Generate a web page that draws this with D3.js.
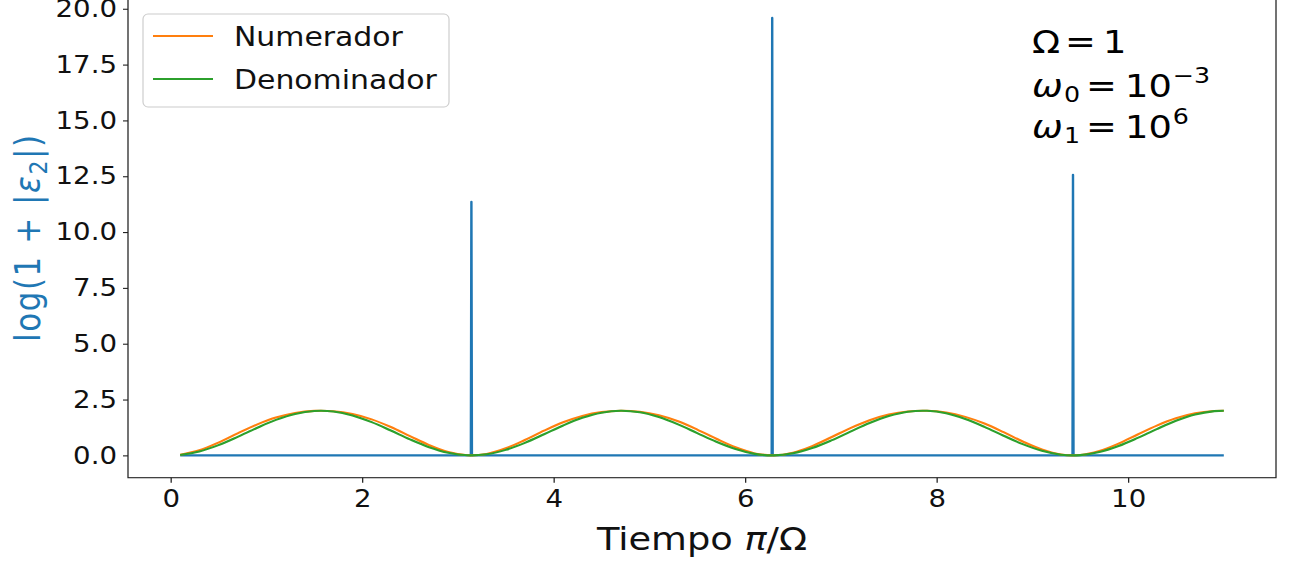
<!DOCTYPE html>
<html><head><meta charset="utf-8">
<script src="https://cdn.jsdelivr.net/npm/d3@7"></script>
<style>html,body{margin:0;padding:0;background:#fff;overflow:hidden}</style>
</head><body><svg id="chart"></svg>
<script>
// ---- data ----
const xSample = [0.1,0.3,0.5,0.7,0.9,1.1,1.3,1.5,1.7,1.9,2.1,2.3,2.5,2.7,2.9,3.1,3.3,3.5,3.7,3.9,4.1,4.3,4.5,4.7,4.9,5.1,5.3,5.5,5.7,5.9,6.1,6.3,6.5,6.7,6.9,7.1,7.3,7.5,7.7,7.9,8.1,8.3,8.5,8.7,8.9,9.1,9.3,9.5,9.7,9.9,10.1,10.3,10.5,10.7,10.9,11.0];
const numerador = [0.026,0.226,0.573,0.985,1.379,1.693,1.900,1.993,1.977,1.850,1.612,1.270,0.863,0.460,0.147,0.004,0.064,0.315,0.690,1.106,1.482,1.766,1.938,2.000,1.952,1.793,1.524,1.156,0.742,0.360,0.088,0.001,0.121,0.416,0.811,1.222,1.575,1.827,1.968,1.997,1.920,1.724,1.425,1.038,0.622,0.263,0.039,0.014,0.191,0.524,0.933,1.333,1.659,1.880,1.988,2.000];
const denominador = [0.020,0.175,0.460,0.830,1.227,1.589,1.857,1.990,1.967,1.791,1.490,1.112,0.716,0.365,0.113,0.003,0.049,0.246,0.561,0.946,1.340,1.680,1.911,2.000,1.930,1.715,1.388,0.996,0.607,0.282,0.068,0.001,0.093,0.328,0.669,1.063,1.447,1.759,1.953,1.996,1.885,1.627,1.277,0.880,0.502,0.204,0.030,0.011,0.147,0.418,0.781,1.178,1.547,1.830,1.982,2.000];
const errX = [0.1,3.136,3.1416,3.147,6.278,6.2832,6.288,9.420,9.4248,9.430,11.0];
const errY = [0,0,11.36,0,0,19.59,0,0,12.57,0,0];
const xTicks = [0,2,4,6,8,10];
const yTicks = [0,2.5,5,7.5,10,12.5,15,17.5,20];
const legendLabels = ["Numerador","Denominador"];

// ---- layout ----
const W = 1294, H = 565, S = 1.15;           // horizontal stretch of the original image
const u = px => px / S;
const C = {blue:"#1f77b4", orange:"#ff7f0e", green:"#2ca02c"};
const FONT = "DejaVu Sans";

const svg = d3.select("#chart").attr("width",W).attr("height",H)
  .attr("viewBox",`0 0 ${W/S} ${H}`).attr("preserveAspectRatio","none")
  .style("font-family",FONT);

const x = d3.scaleLinear().domain([-0.445, 11.545]).range([u(128), u(1276)]);
const y = d3.scaleLinear().domain([-1.0, 20.5]).range([477.7, -2.4]);

// axes
const gx = svg.append("g").attr("transform",`translate(0,${y(-1.0)})`)
  .call(d3.axisBottom(x).tickValues(xTicks).tickSize(5).tickPadding(7.5).tickFormat(d3.format("d")));
const gy = svg.append("g").attr("transform",`translate(${x(-0.445)},0)`)
  .call(d3.axisLeft(y).tickValues(yTicks).tickSize(u(5)).tickPadding(u(6)).tickFormat(d3.format(".1f")));
[gx,gy].forEach(g=>{
  g.select(".domain").remove();
  g.selectAll("line").attr("stroke","#222").attr("stroke-width",1.1);
  g.selectAll("text").attr("fill","#111").style("font-size","24px").style("font-family",FONT);
});

// lines
const lineXY = (xs, ys, curve) => d3.line().x((d,i)=>x(xs[i])).y(d=>y(d)).curve(curve)(ys);
svg.append("path").attr("d", lineXY(errX, errY, d3.curveLinear))
  .attr("fill","none").attr("stroke",C.blue).attr("stroke-width",2.1).attr("stroke-linejoin","round");
svg.append("path").attr("d", lineXY(xSample, numerador, d3.curveCatmullRom.alpha(0.5)))
  .attr("fill","none").attr("stroke",C.orange).attr("stroke-width",2.1);
svg.append("path").attr("d", lineXY(xSample, denominador, d3.curveCatmullRom.alpha(0.5)))
  .attr("fill","none").attr("stroke",C.green).attr("stroke-width",2.1);

// frame
svg.append("rect").attr("x",x(-0.445)).attr("y",y(20.5)).attr("width",x(11.545)-x(-0.445))
  .attr("height",y(-1.0)-y(20.5)).attr("fill","none").attr("stroke","#222").attr("stroke-width",1.1);

// legend
const lg = svg.append("g");
lg.append("rect").attr("x",u(143)).attr("y",14).attr("width",u(306)).attr("height",93)
  .attr("rx",u(5)).attr("ry",5).attr("fill","#fff").attr("fill-opacity",0.8)
  .attr("stroke","#cccccc").attr("stroke-width",1);
[C.orange, C.green].forEach((c,i)=>{
  const yy = 36 + i*43;
  lg.append("line").attr("x1",u(153)).attr("x2",u(213)).attr("y1",yy).attr("y2",yy)
    .attr("stroke",c).attr("stroke-width",2.1);
  lg.append("text").attr("x",u(234)).attr("y",yy+10).style("font-size","26px")
    .attr("fill","#111").text(legendLabels[i]);
});

// x label
const xl = svg.append("text").attr("x",u(702)).attr("y",550).attr("text-anchor","middle")
  .style("font-size","32px").attr("fill","#111");
xl.append("tspan").text("Tiempo ");
xl.append("tspan").style("font-style","oblique").text("π");
xl.append("tspan").text("/Ω");

// y label
const yl = svg.append("text").attr("transform",`translate(${u(40)},238.5) rotate(-90)`)
  .attr("text-anchor","middle").style("font-size","31px").attr("fill",C.blue)
  .attr("textLength",207).attr("lengthAdjust","spacing");
yl.append("tspan").text("log(1 + |");
yl.append("tspan").style("font-style","oblique").text("ε");
yl.append("tspan").style("font-size","22px").attr("dy",6).text("2");
yl.append("tspan").attr("dy",-6).text("|)");

// annotation
const af = 32, sf = 22;
const a1 = svg.append("text").style("font-size",af+"px").attr("fill","#000").attr("y",53.3);
a1.append("tspan").attr("x",u(1032)).text("Ω");
a1.append("tspan").attr("x",u(1065)).text("=");
a1.append("tspan").attr("x",u(1103)).text("1");

const a2 = svg.append("text").style("font-size",af+"px").attr("fill","#000");
a2.append("tspan").attr("x",u(1032)).attr("y",97.3).style("font-style","oblique").text("ω");
a2.append("tspan").attr("x",u(1064)).attr("y",102).style("font-size",sf+"px").text("0");
a2.append("tspan").attr("x",u(1086)).attr("y",97.3).text("=");
a2.append("tspan").attr("x",u(1125)).attr("y",97.3).text("10");
a2.append("tspan").attr("dx",u(1)).attr("y",83).style("font-size",sf+"px").text("−3");

const a3 = svg.append("text").style("font-size",af+"px").attr("fill","#000");
a3.append("tspan").attr("x",u(1032)).attr("y",138.3).style("font-style","oblique").text("ω");
a3.append("tspan").attr("x",u(1064)).attr("y",143).style("font-size",sf+"px").text("1");
a3.append("tspan").attr("x",u(1086)).attr("y",138.3).text("=");
a3.append("tspan").attr("x",u(1125)).attr("y",138.3).text("10");
a3.append("tspan").attr("dx",u(1)).attr("y",124.5).style("font-size",sf+"px").text("6");
</script></body></html>
